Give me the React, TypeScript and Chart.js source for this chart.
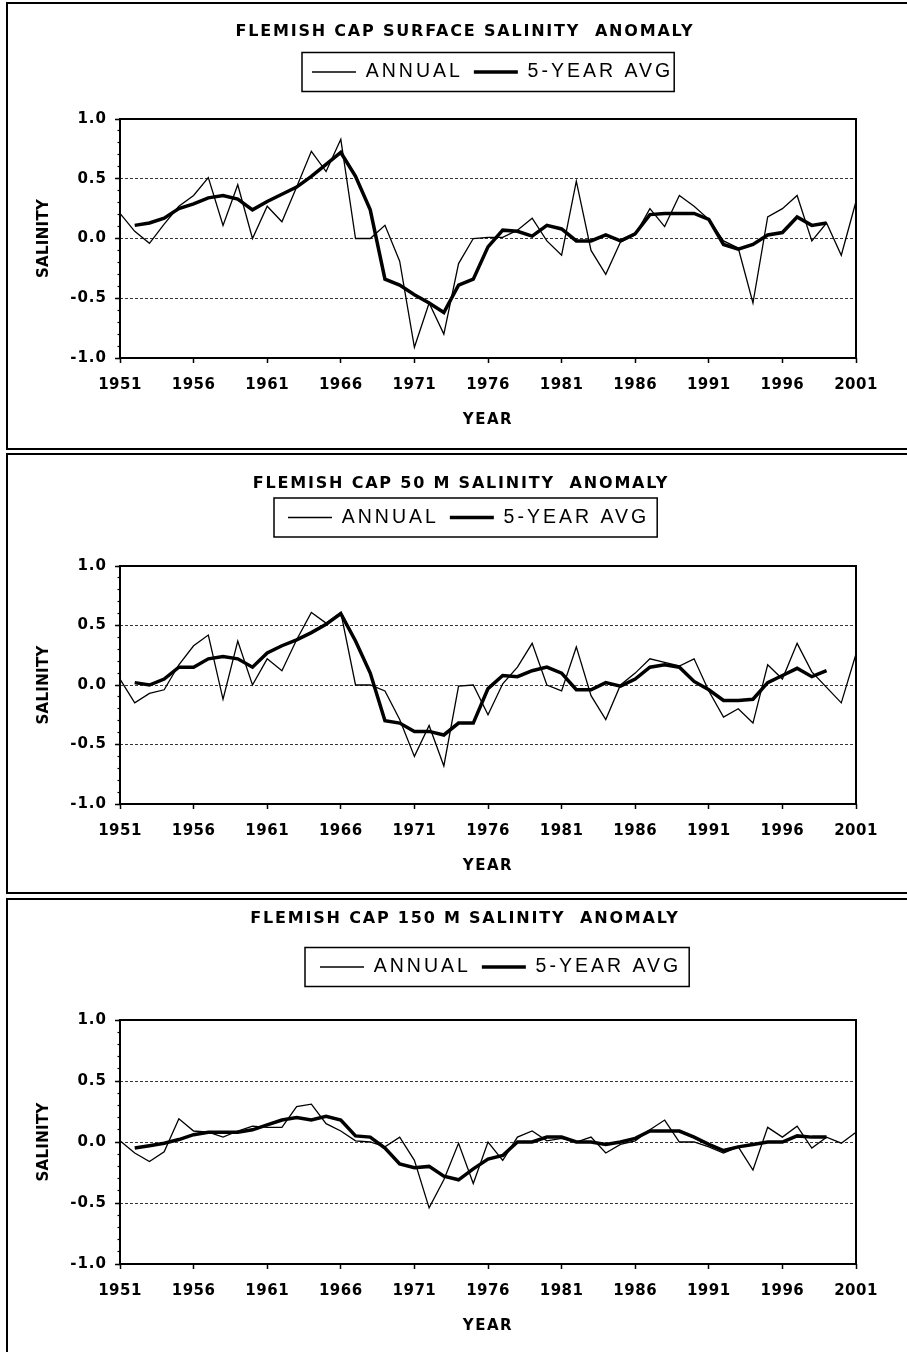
import React, { useEffect, useRef } from "react";
import { Chart, registerables } from "chart.js";

Chart.register(...registerables);

// ---------------- data ----------------
const YEARS: number[] = [
  1951, 1952, 1953, 1954, 1955, 1956, 1957, 1958, 1959, 1960,
  1961, 1962, 1963, 1964, 1965, 1966, 1967, 1968, 1969, 1970,
  1971, 1972, 1973, 1974, 1975, 1976, 1977, 1978, 1979, 1980,
  1981, 1982, 1983, 1984, 1985, 1986, 1987, 1988, 1989, 1990,
  1991, 1992, 1993, 1994, 1995, 1996, 1997, 1998, 1999, 2000, 2001,
];
const X_TICK_YEARS: number[] = [1951, 1956, 1961, 1966, 1971, 1976, 1981, 1986, 1991, 1996, 2001];
const Y_MIN = -1.0;
const Y_MAX = 1.0;
const Y_MAJOR_STEP = 0.5;
const Y_MINOR_STEP = 0.1;

const SERIES_LABELS = ["ANNUAL", "5-YEAR AVG"];
const PANEL_TITLES = [
  "FLEMISH CAP SURFACE SALINITY  ANOMALY",
  "FLEMISH CAP 50 M SALINITY  ANOMALY",
  "FLEMISH CAP 150 M SALINITY  ANOMALY",
];
const X_AXIS_TITLE = "YEAR";
const Y_AXIS_TITLE = "SALINITY";

const SURFACE_ANNUAL: (number | null)[] = [
  0.21, 0.06, -0.04, 0.12, 0.27, 0.36, 0.51, 0.11, 0.45, 0.0,
  0.27, 0.14, 0.43, 0.73, 0.56, 0.83, 0.0, 0.0, 0.11, -0.19,
  -0.91, -0.54, -0.8, -0.21, 0.0, 0.01, 0.01, 0.07, 0.17, -0.02,
  -0.14, 0.48, -0.1, -0.3, -0.03, 0.03, 0.25, 0.1, 0.36, 0.27,
  0.16, -0.02, -0.08, -0.54, 0.18, 0.25, 0.36, -0.02, 0.13, -0.14, 0.31,
];
const SURFACE_AVG: (number | null)[] = [
  null, 0.11, 0.13, 0.17, 0.25, 0.29, 0.34, 0.36, 0.33, 0.24,
  0.31, 0.37, 0.43, 0.52, 0.62, 0.72, 0.52, 0.24, -0.34, -0.39,
  -0.47, -0.54, -0.62, -0.39, -0.34, -0.07, 0.07, 0.06, 0.02, 0.11,
  0.08, -0.02, -0.02, 0.03, -0.02, 0.04, 0.2, 0.21, 0.21, 0.21,
  0.16, -0.05, -0.09, -0.05, 0.03, 0.05, 0.18, 0.11, 0.13, null, null,
];
const M50_ANNUAL: (number | null)[] = [
  0.05, -0.15, -0.07, -0.04, 0.17, 0.33, 0.42, -0.12, 0.37, 0.0,
  0.22, 0.12, 0.38, 0.61, 0.52, 0.61, 0.0, 0.0, -0.05, -0.29,
  -0.6, -0.34, -0.68, -0.01, 0.0, -0.25, 0.01, 0.15, 0.35, 0.0,
  -0.05, 0.32, -0.09, -0.29, 0.0, 0.1, 0.22, 0.19, 0.16, 0.22,
  -0.05, -0.27, -0.2, -0.32, 0.17, 0.05, 0.35, 0.11, -0.02, -0.15, 0.26,
];
const M50_AVG: (number | null)[] = [
  null, 0.02, 0.0, 0.05, 0.15, 0.15, 0.22, 0.24, 0.22, 0.15,
  0.27, 0.33, 0.38, 0.44, 0.51, 0.6, 0.37, 0.1, -0.3, -0.32,
  -0.39, -0.39, -0.42, -0.32, -0.32, -0.03, 0.08, 0.07, 0.12, 0.15,
  0.1, -0.04, -0.04, 0.02, -0.01, 0.05, 0.15, 0.17, 0.15, 0.03,
  -0.04, -0.13, -0.13, -0.12, 0.02, 0.08, 0.14, 0.07, 0.12, null, null,
];
const M150_ANNUAL: (number | null)[] = [
  0.01, -0.09, -0.16, -0.08, 0.19, 0.09, 0.08, 0.04, 0.09, 0.13,
  0.12, 0.12, 0.29, 0.31, 0.15, 0.09, 0.01, 0.0, -0.04, 0.04,
  -0.15, -0.54, -0.31, -0.01, -0.34, 0.0, -0.15, 0.04, 0.09, 0.01,
  0.03, 0.0, 0.04, -0.09, -0.02, 0.01, 0.1, 0.18, 0.0, 0.0,
  -0.04, -0.09, -0.04, -0.23, 0.12, 0.04, 0.13, -0.05, 0.04, -0.01, 0.08,
];
const M150_AVG: (number | null)[] = [
  null, -0.05, -0.03, -0.01, 0.02, 0.06, 0.08, 0.08, 0.08, 0.1,
  0.14, 0.18, 0.2, 0.18, 0.21, 0.18, 0.05, 0.04, -0.05, -0.18,
  -0.21, -0.2, -0.28, -0.31, -0.22, -0.14, -0.11, 0.0, 0.0, 0.04,
  0.04, 0.0, 0.0, -0.02, 0.0, 0.03, 0.09, 0.09, 0.09, 0.04,
  -0.02, -0.07, -0.04, -0.02, 0.0, 0.0, 0.05, 0.04, 0.04, null, null,
];

// ---------------- layout / style ----------------
const W = 907;
const PLOT_LEFT = 120;
const PLOT_RIGHT = 856;
const Y_AXIS_W = 100;
const X_AXIS_H = 75;

const BOLD_FAMILY = "'DejaVu Sans', 'Liberation Sans', sans-serif";
const LEGEND_FAMILY = "'Liberation Sans', Arial, sans-serif";
const TITLE_SIZE = 16;
const TITLE_LH = TITLE_SIZE * 1.2;
const TICK_SIZE = 15;
const X_TITLE_SIZE = 15;
const Y_TITLE_SIZE = 15;
const LEGEND_SIZE = 19.5;
const LEGEND_PAD = 11;
const LEGEND_LINE_W = 44;
const LEGEND_H = LEGEND_SIZE + LEGEND_PAD + 10;

type PanelDef = {
  key: string;
  title: string;
  annual: (number | null)[];
  avg: (number | null)[];
  top: number;
  height: number;
  boxTop: number;
  boxH: number;
  titleMid: number;
  titleCx: number;
  legendMid: number;
  legendX: number;
  legendPadL: number;
  legendPadR: number;
  plotTop: number;
  plotBottom: number;
};

const PANELS: PanelDef[] = [
  {
    key: "surface", title: PANEL_TITLES[0], annual: SURFACE_ANNUAL, avg: SURFACE_AVG,
    top: 0, height: 452, boxTop: 2, boxH: 448,
    titleMid: 32, titleCx: 465, legendMid: 72, legendX: 312, legendPadL: 10, legendPadR: 1,
    plotTop: 119, plotBottom: 358,
  },
  {
    key: "m50", title: PANEL_TITLES[1], annual: M50_ANNUAL, avg: M50_AVG,
    top: 452, height: 444, boxTop: 453, boxH: 441,
    titleMid: 32, titleCx: 461, legendMid: 65.5, legendX: 288, legendPadL: 14, legendPadR: 8,
    plotTop: 114, plotBottom: 352,
  },
  {
    key: "m150", title: PANEL_TITLES[2], annual: M150_ANNUAL, avg: M150_AVG,
    top: 896, height: 456, boxTop: 898, boxH: 480,
    titleMid: 23, titleCx: 465, legendMid: 71, legendX: 320, legendPadL: 15, legendPadR: 8,
    plotTop: 124, plotBottom: 368,
  },
];

const SPACING = { title: 1.8, legend: 3, xTicks: 0.5, yTicks: 1, xTitle: 1.5, yTitle: 0.3 };

function wrapSpacing(ctx: any, obj: any, method: string, px: number) {
  if (!obj || typeof obj[method] !== "function") return;
  const flag = "__sp_" + method;
  if (obj[flag]) return;
  const orig = obj[method];
  obj[method] = function (...args: any[]) {
    const prev = ctx.letterSpacing;
    ctx.letterSpacing = px + "px";
    try {
      return orig.apply(this, args);
    } finally {
      ctx.letterSpacing = prev === undefined ? "0px" : prev;
    }
  };
  obj[flag] = true;
}

const decorPlugin = {
  id: "panelDecor",
  afterLayout(chart: any, _args: any, o: any) {
    const ctx = chart.ctx;
    wrapSpacing(ctx, chart.titleBlock, "draw", SPACING.title);
    wrapSpacing(ctx, chart.legend, "draw", SPACING.legend);
    wrapSpacing(ctx, chart.scales.x, "drawLabels", SPACING.xTicks);
    wrapSpacing(ctx, chart.scales.x, "drawTitle", SPACING.xTitle);
    wrapSpacing(ctx, chart.scales.y, "drawLabels", SPACING.yTicks);
    wrapSpacing(ctx, chart.scales.y, "drawTitle", SPACING.yTitle);
    const tb = chart.titleBlock;
    if (tb) {
      tb.left = o.titleCx - 430;
      tb.right = o.titleCx + 430;
      tb.top = o.titleMid - TITLE_LH / 2;
      tb.bottom = tb.top + TITLE_LH;
    }
    const lg = chart.legend;
    if (lg) {
      lg.left = o.legendX - LEGEND_PAD;
      lg.right = lg.left + 2000;
      lg.top = o.legendMid - LEGEND_PAD - LEGEND_SIZE / 2;
      lg.bottom = lg.top + LEGEND_PAD + LEGEND_SIZE + 30;
    }
  },
  afterDatasetsDraw(chart: any) {
    const { ctx, chartArea: a } = chart;
    ctx.save();
    ctx.strokeStyle = "#000";
    ctx.lineWidth = 2;
    ctx.strokeRect(a.left, a.top, a.right - a.left, a.bottom - a.top);
    ctx.restore();
  },
  afterDraw(chart: any, _args: any, o: any) {
    const lg = chart.legend;
    if (!lg || !lg.legendItems) return;
    const ctx = chart.ctx;
    ctx.save();
    ctx.font = `normal ${LEGEND_SIZE}px ${LEGEND_FAMILY}`;
    ctx.letterSpacing = SPACING.legend + "px";
    let w = 0;
    lg.legendItems.forEach((it: any, i: number) => {
      w += (i ? LEGEND_PAD : 0) + LEGEND_LINE_W + LEGEND_SIZE / 2 + ctx.measureText(it.text).width;
    });
    ctx.letterSpacing = "0px";
    const x0 = o.legendX - o.legendPadL;
    const x1 = o.legendX + w + o.legendPadR;
    const y0 = o.legendMid - 19.5;
    const y1 = o.legendMid + 19.5;
    ctx.lineWidth = 1.5;
    ctx.strokeStyle = "#000";
    ctx.strokeRect(x0, y0, x1 - x0, y1 - y0);
    ctx.restore();
  },
};

const isMajorYear = (i: number) => X_TICK_YEARS.includes(YEARS[i]);

function buildConfig(p: PanelDef): any {
  const boldFont = (size: number) => ({ family: BOLD_FAMILY, size, weight: "bold", lineHeight: 1.2 });
  return {
    type: "line",
    data: {
      labels: YEARS.map(String),
      datasets: [
        {
          label: SERIES_LABELS[0],
          data: p.annual,
          borderColor: "#000",
          backgroundColor: "#000",
          borderWidth: 1.3,
          pointRadius: 0,
          tension: 0,
        },
        {
          label: SERIES_LABELS[1],
          data: p.avg,
          borderColor: "#000",
          backgroundColor: "#000",
          borderWidth: 3.5,
          pointRadius: 0,
          tension: 0,
        },
      ],
    },
    options: {
      responsive: false,
      maintainAspectRatio: false,
      animation: false,
      events: [],
      layout: {
        padding: {
          left: PLOT_LEFT - Y_AXIS_W,
          right: W - PLOT_RIGHT,
          top: p.plotTop - TITLE_LH - LEGEND_H,
          bottom: p.height - p.plotBottom - X_AXIS_H,
        },
      },
      plugins: {
        title: {
          display: true,
          text: p.title,
          color: "#000",
          font: boldFont(TITLE_SIZE),
          padding: 0,
        },
        legend: {
          display: true,
          position: "top",
          align: "start",
          labels: {
            usePointStyle: true,
            pointStyle: "line",
            pointStyleWidth: LEGEND_LINE_W,
            color: "#000",
            font: { family: LEGEND_FAMILY, size: LEGEND_SIZE, weight: "normal", lineHeight: 1.2 },
            padding: LEGEND_PAD,
          },
        },
        tooltip: { enabled: false },
        panelDecor: {
          titleMid: p.titleMid,
          titleCx: p.titleCx,
          legendMid: p.legendMid,
          legendX: p.legendX,
          legendPadL: p.legendPadL,
          legendPadR: p.legendPadR,
        },
      },
      scales: {
        x: {
          type: "category",
          offset: false,
          afterFit: (s: any) => {
            s.height = X_AXIS_H;
          },
          border: { display: false },
          grid: {
            display: true,
            drawOnChartArea: false,
            drawTicks: true,
            tickLength: 5,
            tickWidth: 1.5,
            color: "#000",
            tickColor: (c: any) => (isMajorYear(c.index) ? "#000" : "rgba(0,0,0,0)"),
          },
          ticks: {
            autoSkip: false,
            maxRotation: 0,
            minRotation: 0,
            padding: 13,
            color: "#000",
            font: boldFont(TICK_SIZE),
            callback: (_v: any, i: number) => (isMajorYear(i) ? String(YEARS[i]) : ""),
          },
          title: {
            display: true,
            text: X_AXIS_TITLE,
            color: "#000",
            font: boldFont(X_TITLE_SIZE),
            padding: { top: 0, bottom: 4 },
          },
        },
        y: {
          type: "linear",
          position: "left",
          min: Y_MIN,
          max: Y_MAX,
          weight: 1,
          afterFit: (s: any) => {
            s.width = Y_AXIS_W;
          },
          border: { display: false, dash: [3, 2] },
          grid: {
            color: (c: any) => (c.tick && Math.abs(c.tick.value) > 0.999 ? "rgba(0,0,0,0)" : "#000"),
            lineWidth: 0.8,
            drawTicks: true,
            tickLength: 5,
            tickWidth: 1.5,
            tickColor: "#000",
          },
          ticks: {
            stepSize: Y_MAJOR_STEP,
            padding: 8,
            color: "#000",
            font: boldFont(TICK_SIZE),
            callback: (v: any) => Number(v).toFixed(1),
          },
          title: {
            display: true,
            text: Y_AXIS_TITLE,
            color: "#000",
            font: boldFont(Y_TITLE_SIZE),
            padding: { top: 15, bottom: 0 },
          },
        },
        y2: {
          type: "linear",
          position: "left",
          min: Y_MIN,
          max: Y_MAX,
          weight: 0,
          afterFit: (s: any) => {
            s.width = 0;
          },
          border: { display: false },
          grid: {
            drawOnChartArea: false,
            drawTicks: true,
            tickLength: 2.5,
            tickWidth: 1.2,
            tickColor: "#000",
            color: "#000",
          },
          ticks: { display: false, stepSize: Y_MINOR_STEP },
        },
      },
    },
    plugins: [decorPlugin],
  };
}

function PanelChart({ p }: { p: PanelDef }) {
  const ref = useRef<HTMLCanvasElement | null>(null);
  useEffect(() => {
    if (!ref.current) return;
    const chart = new Chart(ref.current, buildConfig(p));
    return () => {
      chart.destroy();
    };
  }, [p]);
  return (
    <canvas
      ref={ref}
      width={W}
      height={p.height}
      style={{ position: "absolute", left: 0, top: p.top, width: W, height: p.height, display: "block" }}
    />
  );
}

export default function App() {
  return (
    <div
      style={{
        position: "absolute",
        left: 0,
        top: 0,
        width: W,
        height: 1352,
        overflow: "hidden",
        background: "#fff",
      }}
    >
      {PANELS.map((p) => (
        <div
          key={"box-" + p.key}
          style={{
            position: "absolute",
            left: 6,
            top: p.boxTop,
            width: 980,
            height: p.boxH,
            border: "2px solid #000",
            boxSizing: "border-box",
          }}
        />
      ))}
      {PANELS.map((p) => (
        <PanelChart key={p.key} p={p} />
      ))}
    </div>
  );
}
